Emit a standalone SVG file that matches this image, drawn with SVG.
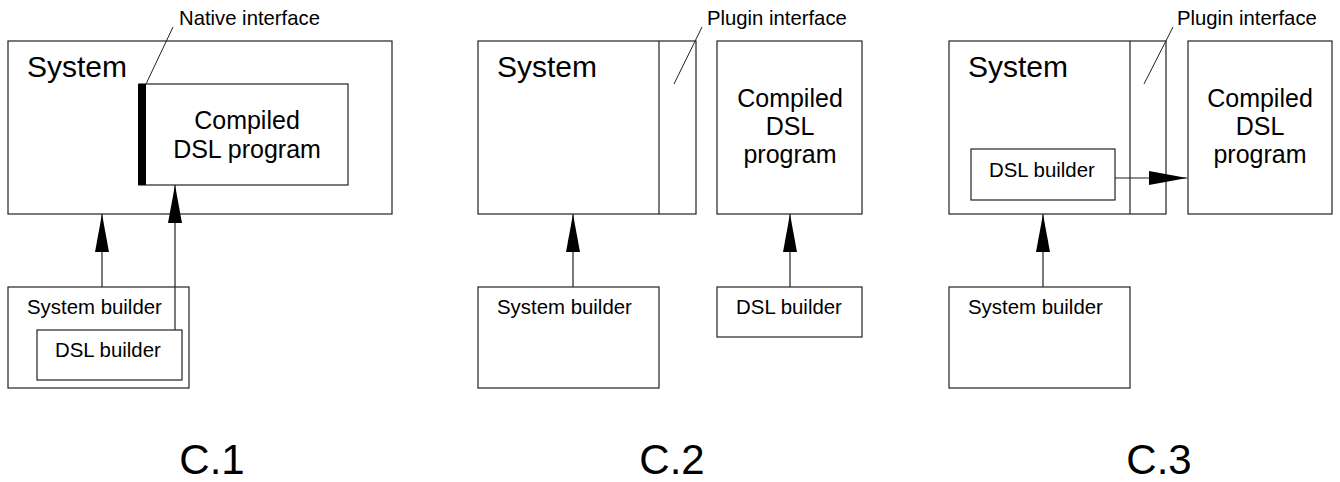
<svg xmlns="http://www.w3.org/2000/svg" width="1340" height="482" viewBox="0 0 1340 482">
<style>
.box{fill:#fff;stroke:#222;stroke-width:1.2}
.ln{fill:none;stroke:#222;stroke-width:1.2}
.lead{fill:none;stroke:#222;stroke-width:1}
.t{font-family:"Liberation Sans",Arial,sans-serif;fill:#000}
.big{font-size:30px}
.mid{font-size:25px}
.sm{font-size:20.4px}
.lab{font-size:20.3px}
.cap{font-size:42px}
</style>
<defs>
<marker id="ah" markerUnits="userSpaceOnUse" markerWidth="40" markerHeight="16" refX="38" refY="7" orient="auto">
<path d="M0,0 L38,7 L0,14 Z" fill="#000"/>
</marker>
</defs>
<rect width="1340" height="482" fill="#fff"/>

<!-- Panel C.1 -->
<g id="c1-system">
<rect class="box" x="8" y="41" width="384" height="173"/>
<text class="t big" x="27" y="77">System</text>
</g>
<g id="c1-compiled">
<rect class="box" x="139" y="84" width="209" height="101"/>
<rect x="138" y="84" width="8" height="101" fill="#000"/>
<text class="t mid" x="247" y="129" text-anchor="middle">Compiled</text>
<text class="t mid" x="247" y="158" text-anchor="middle">DSL program</text>
</g>
<g id="c1-native-label">
<text class="t lab" x="179" y="25">Native interface</text>
<line class="lead" x1="146" y1="84" x2="173" y2="27"/>
</g>
<g id="c1-sysbuilder">
<rect class="box" x="8" y="287" width="181" height="101"/>
<text class="t sm" x="27" y="314">System builder</text>
</g>
<g id="c1-dslbuilder">
<rect class="box" x="37" y="330" width="145" height="50"/>
<text class="t sm" x="55" y="357">DSL builder</text>
</g>
<text class="t cap" x="212" y="474" text-anchor="middle">C.1</text>

<!-- Panel C.2 -->
<g id="c2-system">
<rect class="box" x="478" y="41" width="218" height="173"/>
<line class="ln" x1="659" y1="41" x2="659" y2="214"/>
<text class="t big" x="497" y="77">System</text>
</g>
<g id="c2-plugin-label">
<text class="t lab" x="707" y="25">Plugin interface</text>
<line class="lead" x1="674" y1="84" x2="702" y2="27"/>
</g>
<g id="c2-compiled">
<rect class="box" x="717" y="41" width="145" height="173"/>
<text class="t mid" x="790" y="107" text-anchor="middle">Compiled</text>
<text class="t mid" x="790" y="135" text-anchor="middle">DSL</text>
<text class="t mid" x="790" y="163" text-anchor="middle">program</text>
</g>
<g id="c2-sysbuilder">
<rect class="box" x="478" y="287" width="181" height="101"/>
<text class="t sm" x="497" y="314">System builder</text>
</g>
<g id="c2-dslbuilder">
<rect class="box" x="717" y="287" width="145" height="50"/>
<text class="t sm" x="789" y="314" text-anchor="middle">DSL builder</text>
</g>
<text class="t cap" x="672" y="474" text-anchor="middle">C.2</text>

<!-- Panel C.3 -->
<g id="c3-system">
<rect class="box" x="949" y="41" width="217" height="173"/>
<line class="ln" x1="1130" y1="41" x2="1130" y2="214"/>
<text class="t big" x="968" y="77">System</text>
</g>
<g id="c3-plugin-label">
<text class="t lab" x="1177" y="25">Plugin interface</text>
<line class="lead" x1="1144" y1="84" x2="1173" y2="27"/>
</g>
<g id="c3-dslbuilder">
<rect class="box" x="971" y="149" width="144" height="51"/>
<text class="t sm" x="989" y="177">DSL builder</text>
</g>
<g id="c3-compiled">
<rect class="box" x="1188" y="41" width="144" height="173"/>
<text class="t mid" x="1260" y="107" text-anchor="middle">Compiled</text>
<text class="t mid" x="1260" y="135" text-anchor="middle">DSL</text>
<text class="t mid" x="1260" y="163" text-anchor="middle">program</text>
</g>
<g id="c3-sysbuilder">
<rect class="box" x="949" y="287" width="181" height="101"/>
<text class="t sm" x="968" y="314">System builder</text>
</g>
<text class="t cap" x="1159" y="474" text-anchor="middle">C.3</text>

<!-- Connectors -->
<g id="connectors">
<line class="ln" x1="102" y1="287" x2="102" y2="214" marker-end="url(#ah)"/>
<line class="ln" x1="175" y1="330" x2="175" y2="185" marker-end="url(#ah)"/>
<line class="ln" x1="573" y1="287" x2="573" y2="214" marker-end="url(#ah)"/>
<line class="ln" x1="790" y1="287" x2="790" y2="214" marker-end="url(#ah)"/>
<line class="ln" x1="1043" y1="287" x2="1043" y2="214" marker-end="url(#ah)"/>
<line class="ln" x1="1115" y1="178" x2="1187" y2="178" marker-end="url(#ah)"/>
</g>
</svg>
